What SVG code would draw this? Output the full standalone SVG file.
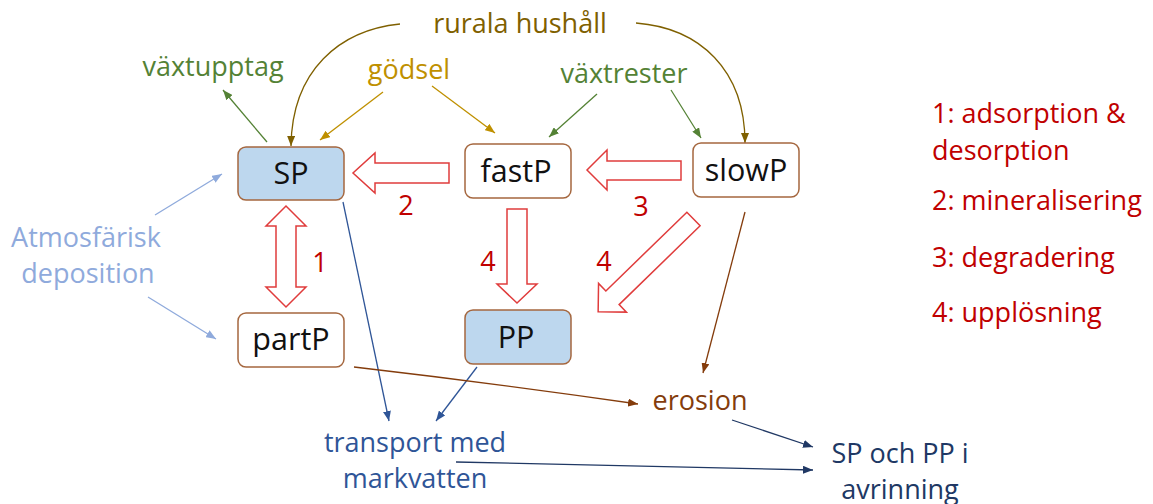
<svg xmlns="http://www.w3.org/2000/svg" width="1153" height="504" viewBox="0 0 1153 504">
<defs>
<style>
text{font-family:"Open Sans","Noto Sans","Liberation Sans",sans-serif;font-size:27px;text-anchor:middle}
.box{stroke:#A5673F;stroke-width:1.5;fill:#fff}
.blue{fill:#BDD7EE}
.bt{font-size:30.5px;fill:#111}
.blk{fill:#fff;stroke:#E03C3C;stroke-width:1.5;stroke-linejoin:miter}
.red{fill:#C00000}
.ln{fill:none;stroke-width:1.3}
.lg{text-anchor:start}
</style>
<marker id="mOl" viewBox="0 0 10 8" refX="10" refY="4" markerWidth="10" markerHeight="8" markerUnits="userSpaceOnUse" orient="auto"><path d="M0,0L10,4L0,8z" fill="#7F6000"/></marker>
<marker id="mGo" viewBox="0 0 10 8" refX="10" refY="4" markerWidth="10" markerHeight="8" markerUnits="userSpaceOnUse" orient="auto"><path d="M0,0L10,4L0,8z" fill="#BF9000"/></marker>
<marker id="mGr" viewBox="0 0 10 8" refX="10" refY="4" markerWidth="10" markerHeight="8" markerUnits="userSpaceOnUse" orient="auto"><path d="M0,0L10,4L0,8z" fill="#548235"/></marker>
<marker id="mLb" viewBox="0 0 10 8" refX="10" refY="4" markerWidth="10" markerHeight="8" markerUnits="userSpaceOnUse" orient="auto"><path d="M0,0L10,4L0,8z" fill="#8FAADC"/></marker>
<marker id="mBl" viewBox="0 0 10 8" refX="10" refY="4" markerWidth="10" markerHeight="8" markerUnits="userSpaceOnUse" orient="auto"><path d="M0,0L10,4L0,8z" fill="#2F5597"/></marker>
<marker id="mNv" viewBox="0 0 10 8" refX="10" refY="4" markerWidth="10" markerHeight="8" markerUnits="userSpaceOnUse" orient="auto"><path d="M0,0L10,4L0,8z" fill="#203864"/></marker>
<marker id="mBr" viewBox="0 0 10 8" refX="10" refY="4" markerWidth="10" markerHeight="8" markerUnits="userSpaceOnUse" orient="auto"><path d="M0,0L10,4L0,8z" fill="#843C0C"/></marker>
</defs>
<rect width="1153" height="504" fill="#fff"/>

<g id="connectors">
<path class="ln" stroke="#7F6000" d="M400,24 C340,30 292,70 291,146" marker-end="url(#mOl)"/>
<path class="ln" stroke="#7F6000" d="M636,23 C700,28 745,70 745,143" marker-end="url(#mOl)"/>
<line class="ln" stroke="#548235" x1="267" y1="142" x2="223" y2="90" marker-end="url(#mGr)"/>
<line class="ln" stroke="#BF9000" x1="383" y1="92" x2="320" y2="140" marker-end="url(#mGo)"/>
<line class="ln" stroke="#BF9000" x1="432" y1="86" x2="495" y2="133" marker-end="url(#mGo)"/>
<line class="ln" stroke="#548235" x1="597" y1="94" x2="549" y2="137" marker-end="url(#mGr)"/>
<line class="ln" stroke="#548235" x1="671" y1="90" x2="701" y2="138" marker-end="url(#mGr)"/>
<line class="ln" stroke="#8FAADC" x1="155" y1="215" x2="222" y2="174" marker-end="url(#mLb)"/>
<line class="ln" stroke="#8FAADC" x1="148" y1="297" x2="216" y2="339" marker-end="url(#mLb)"/>
<line class="ln" stroke="#2F5597" x1="343" y1="202" x2="389" y2="421" marker-end="url(#mBl)"/>
<line class="ln" stroke="#2F5597" x1="477" y1="367" x2="436" y2="421" marker-end="url(#mBl)"/>
<path class="ln" stroke="#843C0C" d="M354,367 Q500,384 638,404" marker-end="url(#mBr)"/>
<line class="ln" stroke="#843C0C" x1="745" y1="212" x2="703" y2="373" marker-end="url(#mBr)"/>
<line class="ln" stroke="#203864" x1="732" y1="420" x2="813" y2="447" marker-end="url(#mNv)"/>
<line class="ln" stroke="#203864" x1="456" y1="462" x2="813" y2="470" marker-end="url(#mNv)"/>
<polygon class="blk" points="449,163 375,163 375,153 353,173 375,193 375,183 449,183"/>
<polygon class="blk" points="681,161 607,161 607,150 587,170 607,190 607,180 681,180"/>
<polygon class="blk" points="276,226 266,226 286,206 306,226 296,226 296,287 306,287 286,307 266,287 276,287"/>
<polygon class="blk" points="507,209 527,209 527,284 537,284 517,303 497,284 507,284"/>
<polygon class="blk" transform="translate(693.5,219) rotate(135.8)" points="0,-9.5 113,-9.5 113,-20 133,0 113,20 113,9.5 0,9.5"/>
</g>

<g id="SP"><rect class="box blue" x="238" y="147" width="106" height="53" rx="8"/><text class="bt" x="291" y="184">SP</text></g>
<g id="fastP"><rect class="box" x="465" y="144" width="106" height="54" rx="8"/><text class="bt" x="516" y="182">fastP</text></g>
<g id="slowP"><rect class="box" x="693" y="143" width="106" height="54" rx="8"/><text class="bt" x="746" y="181">slowP</text></g>
<g id="partP"><rect class="box" x="238" y="313" width="106" height="54" rx="8"/><text class="bt" x="291" y="350">partP</text></g>
<g id="PP"><rect class="box blue" x="465" y="310" width="106" height="54" rx="8"/><text class="bt" x="516" y="348">PP</text></g>

<g id="labels">
<text x="520" y="33" fill="#7F6000">rurala hushåll</text>
<text x="213" y="76" fill="#548235">växtupptag</text>
<text x="409" y="79" fill="#BF9000">gödsel</text>
<text x="624" y="83" fill="#548235">växtrester</text>
<text x="86" y="247" fill="#8FAADC">Atmosfärisk</text>
<text x="88" y="283" fill="#8FAADC">deposition</text>
<text class="red" x="320" y="272">1</text>
<text class="red" x="406" y="215">2</text>
<text class="red" x="641" y="216">3</text>
<text class="red" x="488" y="271">4</text>
<text class="red" x="604" y="271">4</text>
<text x="700" y="410" fill="#843C0C">erosion</text>
<text x="415" y="452" fill="#2F5597">transport med</text>
<text x="415" y="488" fill="#2F5597">markvatten</text>
<text x="900" y="463" fill="#203864">SP och PP i</text>
<text x="900" y="499" fill="#203864">avrinning</text>
</g>
<g id="legend">
<text class="red lg" x="932" y="123">1: adsorption &amp;</text>
<text class="red lg" x="932" y="160">desorption</text>
<text class="red lg" x="932" y="210">2: mineralisering</text>
<text class="red lg" x="932" y="267">3: degradering</text>
<text class="red lg" x="932" y="322">4: upplösning</text>
</g>
</svg>
